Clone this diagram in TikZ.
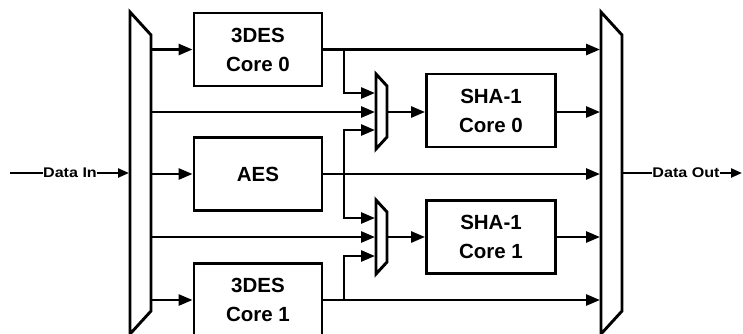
\documentclass[tikz,border=0pt]{standalone}
\usepackage{fontspec}
\usepackage{graphicx}
\setmainfont{Liberation Sans}
\usetikzlibrary{arrows.meta}
\begin{document}
\begin{tikzpicture}[x=1pt,y=-1pt,
  wire/.style={line width=2.7pt},
  arr/.style={wire,-{Triangle[length=14pt,width=11pt]}},
  smallarr/.style={line width=2.3pt,-{Triangle[length=11pt,width=9pt]}},
  block/.style={draw,line width=2.9pt,minimum width=128pt,minimum height=73pt,inner sep=0pt,align=center,font=\fontsize{20.5}{29}\selectfont\bfseries},
  muxshape/.style={draw,line width=2.9pt,line join=miter},
  iolabel/.style={inner sep=0pt,font=\fontsize{14}{14}\selectfont\bfseries}]
\useasboundingbox (0,0) rectangle (743,333);

% blocks
\node[block] (des0) at (258,49.5) {3DES\\Core 0};
\node[block] (aes) at (258,174) {AES};
\node[block] (des1) at (258,300) {3DES\\Core 1};
\node[block,minimum width=129pt] (sha0) at (491,110.5) {SHA-1\\Core 0};
\node[block,minimum width=129pt] (sha1) at (491,237) {SHA-1\\Core 1};

% multiplexers
\draw[muxshape] (130,12) -- (151,35) -- (151,311) -- (130,334) -- cycle;
\draw[muxshape] (601,12) -- (622,35) -- (622,311) -- (601,334) -- cycle;
\draw[muxshape] (376,74) -- (387,86) -- (387,137) -- (376,149) -- cycle;
\draw[muxshape] (376,200) -- (387,212) -- (387,262) -- (376,274) -- cycle;

% reference coordinates
\coordinate (lmL) at (129,0);
\coordinate (lmR) at (151,0);
\coordinate (rmL) at (600,0);
\coordinate (rmR) at (622,0);
\coordinate (br) at (344,0);
\coordinate (smAin1) at (375,93);
\coordinate (smAin2) at (375,112);
\coordinate (smAin3) at (375,130);
\coordinate (smAout) at (387,112);
\coordinate (smBin1) at (375,218);
\coordinate (smBin2) at (375,237);
\coordinate (smBin3) at (375,256);
\coordinate (smBout) at (387,237);
\coordinate (dinstart) at (10,173);
\coordinate (doutend) at (742,173);

% data in
\node[iolabel] (din) at (70,173) {\scalebox{1.15}[1]{Data In}};
\draw[line width=2.3pt] (dinstart) -- (din.west);
\draw[smallarr] (din.east) -- (lmL |- din);

% left mux outputs
\draw[arr] (lmR |- des0.west) -- (des0.west);
\draw[arr] (lmR |- smAin2) -- (smAin2);
\draw[arr] (lmR |- aes.west) -- (aes.west);
\draw[arr] (lmR |- smBin2) -- (smBin2);
\draw[arr] (lmR |- des1.west) -- (des1.west);

% block outputs to right mux
\draw[arr] (des0.east) -- (rmL |- des0.east);
\draw[arr] (aes.east) -- (rmL |- aes.east);
\draw[arr] (des1.east) -- (rmL |- des1.east);

% branches into small muxes
\draw[arr] (br |- des0.east) |- (smAin1);
\draw[arr] (br |- aes.east) |- (smAin3);
\draw[arr] (br |- aes.east) |- (smBin1);
\draw[arr] (br |- des1.east) |- (smBin3);

% small muxes to SHA-1
\draw[arr] (smAout) -- (sha0.west |- smAout);
\draw[arr] (smBout) -- (sha1.west |- smBout);
\draw[arr] (sha0.east |- smAout) -- (rmL |- smAout);
\draw[arr] (sha1.east |- smBout) -- (rmL |- smBout);

% data out
\node[iolabel] (dout) at (686,173) {\scalebox{1.15}[1]{Data Out}};
\draw[line width=2.3pt] (rmR |- dout) -- (dout.west);
\draw[smallarr] (dout.east) -- (doutend);
\end{tikzpicture}
\end{document}
